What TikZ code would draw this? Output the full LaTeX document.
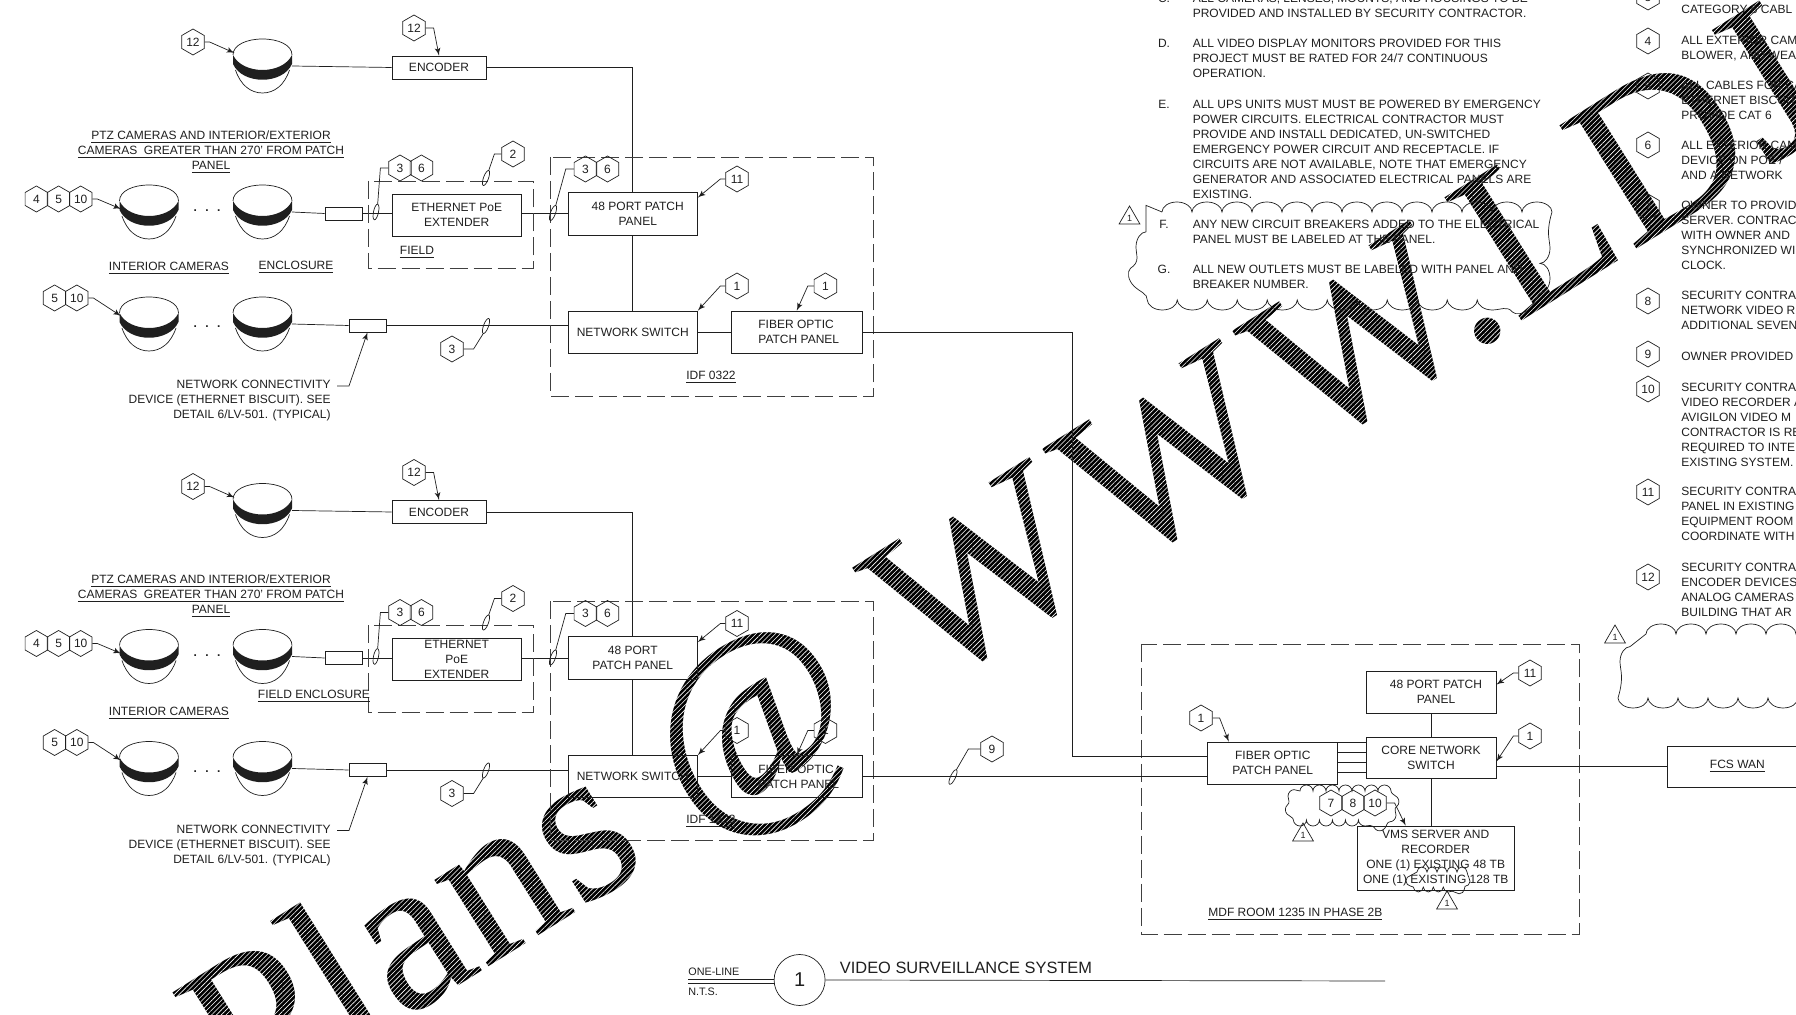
\documentclass[tikz,border=0pt]{standalone}
\usepackage{fontspec}
\setmainfont{Liberation Sans}
\newfontfamily\markfont{Liberation Serif}
\usetikzlibrary{arrows}
\usetikzlibrary{decorations.pathmorphing}
\usetikzlibrary{shapes.geometric}
\usetikzlibrary{patterns.meta}
\tikzset{every node/.style = {inner sep=0pt, font=\fontsize{6}{7.5}\selectfont}}
\tikzset{sbox/.style 2 args = {draw, minimum width=#1, minimum height=#2, align=center}}
\tikzset{tag/.style = {draw, regular polygon, regular polygon sides=6, shape border rotate=30, minimum size=13pt}}
\tikzset{revtag/.style = {draw, regular polygon, regular polygon sides=3, minimum size=12pt, font=\fontsize{4.5}{5}\selectfont}}
\tikzset{leader/.style = {->, >=latex'}}
\tikzset{frame/.style = {dash pattern=on 9pt off 3pt, black!75}}
\tikzset{cloudline/.style 2 args = {decorate, decoration={bumps, segment length=#1, amplitude=#2}}}
\tikzset{note/.style = {anchor=north west, align=left}}
\tikzset{dome/.pic = {
    \draw (-29.5,-12) .. controls (-29.5,-22) and (-16,-28) .. (0,-28) .. controls (16,-28) and (29.5,-22) .. (29.5,-12);
    \fill (-29.5,-12) .. controls (-20,8) and (20,8) .. (29.5,-12) -- (29.5,-3) .. controls (20,18) and (-20,18) .. (-29.5,-3) -- cycle;
    \draw (-27,3) .. controls (-22,18) and (-12,26) .. (0,26) .. controls (12,26) and (22,18) .. (27,3);
    \coordinate (-e) at (29.5,-1);
    \coordinate (-nw) at (-28,-14);
}}
\tikzset{cableloop/.pic = {
    \draw (0,0) ellipse (2.5 and 8);
    \coordinate (-top) at (0,-8);
    \coordinate (-bot) at (0,8);
}}
\begin{document}
\begin{tikzpicture}[x=0.5pt, y=-0.5pt, line width=0.35pt, color=black!88]
  \useasboundingbox (0,0) rectangle (1796,1015);
  \clip (0,0) rectangle (1796,1015);

  \node[anchor=base west, rotate=32, black, font=\markfont\fontsize{111}{111}\selectfont] (mark) at (244,1120) {Plans @\hspace{6pt} W\kern7pt W\kern7pt W.LDJ};
  \fill[pattern={Lines[angle=45, distance=1.7pt, line width=0.3pt]}, pattern color=white] (0,0) rectangle (1796,1015);

  \foreach \n/\dy/\idf/\pptext/\extext in {a/0/{IDF 0322}/{\hspace*{5pt}48 PORT PATCH\\\hspace*{5pt}PANEL}/{ETHERNET PoE\\EXTENDER},
                                           b/444.5/{IDF 1223}/{48 PORT\\PATCH PANEL}/{ETHERNET\\PoE\\EXTENDER}} {
    \begin{scope}[shift={(0,\dy)}]
      \pic (cama\n) at (262.5,67) {dome};
      \pic (camb\n) at (149,213) {dome};
      \pic (camc\n) at (262.5,213) {dome};
      \pic (camd\n) at (149,325) {dome};
      \pic (came\n) at (262.5,325) {dome};
      \node at (207,211) (dotsb\n) {\textbf{.\hspace{4.2pt}.\hspace{4.2pt}.}};
      \node at (207,327) (dotsd\n) {\textbf{.\hspace{4.2pt}.\hspace{4.2pt}.}};

      \node[sbox={47pt}{11.5pt}] (enc\n) at (439,67.5) {ENCODER};
      \node[sbox={64.7pt}{21.5pt}] (pp\n) at (632.75,213.5) {\pptext};
      \node[sbox={64.7pt}{21pt}] (sw\n) at (632.75,332) {NETWORK SWITCH};
      \node[sbox={65.2pt}{21pt}, align=left] (fb\n) at (796.75,332) {\hspace*{2pt}FIBER OPTIC\\\hspace*{2pt}PATCH PANEL};
      \node[sbox={64.7pt}{21pt}] (ex\n) at (456.7,215) {\extext};
      \node[sbox={18.5pt}{6.5pt}] (bisa\n) at (343.5,213.5) {};
      \node[sbox={18.5pt}{6.5pt}] (bisb\n) at (367.5,325.5) {};

      \draw (cama\n-e) -- (enc\n.west);
      \draw (enc\n.east) -| (pp\n.north);
      \draw (pp\n.south) -- (sw\n.north);
      \draw (camc\n-e) -- (bisa\n.west);
      \draw (bisa\n.east) -- (ex\n.west |- bisa\n.east);
      \draw (ex\n.east |- bisa\n.east) -- (pp\n.west |- bisa\n.east);
      \draw (came\n-e) -- (bisb\n.west);
      \draw (bisb\n.east) -- (sw\n.west |- bisb\n.east);
      \draw (sw\n.east) -- (fb\n.west);

      \draw[frame] (550,157) rectangle (873.5,396);
      \draw[frame] (368.5,181) rectangle (533,268);
      \node (idf\n) at (711,377) {\underline{\idf}};
      \node[align=center] (ptz\n) at (211,152) {\underline{PTZ CAMERAS AND INTERIOR/EXTERIOR}\\\underline{CAMERAS\ \ GREATER THAN 270' FROM PATCH}\\\underline{PANEL}};
      \node[anchor=east, align=right] (ncd\n) at (331,401) {NETWORK CONNECTIVITY\\DEVICE (ETHERNET BISCUIT). SEE\\DETAIL 6/LV-501. (TYPICAL)};
      \coordinate (ncs\n) at (337,386);
      \coordinate (ncb\n) at (349,386);
      \draw[leader] (ncs\n) -- (ncb\n) -- (bisb\n.south);

      \node[tag] (tca\n) at (193,42) {12};
      \draw[leader] (tca\n.east) -- ++(5,0) -- (cama\n-nw);
      \node[tag] (ten\n) at (414,28) {12};
      \draw[leader] (ten\n.east) -- ++(8,0) -- (enc\n.north);
      \node[tag] (tba\n) at (36.4,199) {4};
      \node[tag] (tbb\n) at (58.6,199) {5};
      \node[tag] (tbc\n) at (80.7,199) {10};
      \draw[leader] (tbc\n.east) -- ++(5,0) -- ([yshift=-5pt]camb\n-nw);
      \node[tag] (tda\n) at (54.6,298) {5};
      \node[tag] (tdb\n) at (76.8,298) {10};
      \draw[leader] (tdb\n.east) -- ++(5,0) -- ([yshift=-2.5pt]camd\n-nw);

      \pic[rotate=-12] (lfa\n) at (376,212) {cableloop};
      \node[tag] (tfa\n) at (400,168) {3};
      \node[tag] (tfb\n) at (421.4,168) {6};
      \draw (tfa\n.west) -- ++(-8,0) -- (lfa\n-top);
      \pic[rotate=-20] (lfb\n) at (486,178) {cableloop};
      \node[tag] (tfc\n) at (513,154) {2};
      \draw (tfc\n.west) -- ++(-7,0) -- (lfb\n-top);
      \pic[rotate=-20] (lfc\n) at (553,213) {cableloop};
      \node[tag] (tfd\n) at (585.4,169) {3};
      \node[tag] (tfe\n) at (607.5,169) {6};
      \draw (tfd\n.west) -- ++(-8,0) -- (lfc\n-top);
      \pic[rotate=-20] (lfd\n) at (486,326) {cableloop};
      \node[tag] (tfg\n) at (452,349) {3};
      \draw (tfg\n.east) -- ++(10,0) -- (lfd\n-bot);

      \node[tag] (tpp\n) at (737,179) {11};
      \draw[leader] (tpp\n.west) -- ++(-5,0) -- ([yshift=-3pt]pp\n.north east);
      \node[tag] (tsw\n) at (737,286) {1};
      \draw[leader] (tsw\n.west) -- ++(-5,0) -- (sw\n.north east);
      \node[tag] (tfo\n) at (825.4,286) {1};
      \draw[leader] (tfo\n.west) -- ++(-6,0) -- (fb\n.north);
    \end{scope}
  }

  \node (intera) at (169,268) {\underline{INTERIOR CAMERAS}};
  \node (encla) at (296,267) {\underline{ENCLOSURE}};
  \node (fielda) at (417,252) {\underline{FIELD}};
  \node (interb) at (169,713) {\underline{INTERIOR CAMERAS}};
  \node (fieldb) at (314,696) {\underline{FIELD ENCLOSURE}};

  \draw[frame] (1141.5,644) rectangle (1579,934);
  \node (mdf) at (1295.4,914) {\underline{MDF ROOM 1235 IN PHASE 2B}};
  \node[sbox={65pt}{21pt}] (mpp) at (1431,692) {\hspace*{5pt}48 PORT PATCH\\\hspace*{5pt}PANEL};
  \node[sbox={65pt}{20.5pt}] (core) at (1431,757.5) {CORE NETWORK\\SWITCH};
  \node[sbox={65pt}{21pt}] (mfb) at (1272.8,763) {FIBER OPTIC\\PATCH PANEL};
  \node[sbox={78.7pt}{32pt}] (vms) at (1435.7,858) {VMS SERVER AND\\RECORDER\\ONE (1) EXISTING 48 TB\\ONE (1) EXISTING 128 TB};
  \node[sbox={70pt}{20.5pt}] (wan) at (1737.4,766.5) {\underline{FCS WAN}};
  \draw (mpp.south) -- (core.north);
  \draw (core.south) -- (vms.north -| core.south);
  \draw (core.east |- wan.west) -- (wan.west);
  \foreach \y in {742,752,762,772} {
    \draw (mfb.east |- 0,\y) -- (core.west |- 0,\y);
  }
  \draw (fba.east) -| (1072,756) -- (mfb.west |- 0,756);
  \draw (fbb.east) -- (mfb.west |- 0,776.5);

  \pic[rotate=-25] (lninea) at (953,777) {cableloop};
  \node[tag] (tnine) at (992,749) {9};
  \draw (tnine.west) -- ++(-12,0) -- (lninea-top);

  \node[tag] (tmpp) at (1530,673) {11};
  \draw[leader] (tmpp.west) -- ++(-5,0) -- ([yshift=-7pt]mpp.north east);
  \node[tag] (tcore) at (1530,736) {1};
  \draw[leader] (tcore.west) -- ++(-5,0) -- ([yshift=-12.5pt]core.north east);
  \node[tag] (tmfb) at (1201,718) {1};
  \draw[leader] (tmfb.east) -- ++(7,0) -- ([xshift=-22pt]mfb.north);
  \node[tag] (tva) at (1331,803) {7};
  \node[tag] (tvb) at (1353,803) {8};
  \node[tag] (tvc) at (1375,803) {10};
  \draw[leader] (tvc.east) -- ++(8,0) -- ([xshift=-15pt]vms.north);

  \draw[cloudline={13pt}{3pt}] (1300,791) -- (1384,791) -- (1390,798) -- (1390,813) -- (1384,820) -- (1300,820) -- (1294,813) -- (1294,798) -- cycle;
  \node[revtag] (revc) at (1303,835) {1};
  \draw[cloudline={10pt}{2.5pt}] (1417,872) -- (1461,872) -- (1465,876) -- (1465,883) -- (1461,887) -- (1417,887) -- (1413,883) -- (1413,876) -- cycle;
  \node[revtag] (revd) at (1447,903) {1};
  \draw[cloudline={30pt}{5pt}] (1162,212) -- (1524,212) -- (1540,228) -- (1540,284) -- (1524,300) -- (1162,300) -- (1146,284) -- (1146,228) -- cycle;
  \node[revtag] (reva) at (1129.5,218) {1};
  \draw[cloudline={30pt}{5pt}] (1646,634) -- (1870,634) -- (1870,698) -- (1646,698) -- (1630,682) -- (1630,650) -- cycle;
  \node[revtag] (revb) at (1615,637) {1};

  \foreach \l/\y in {C./-2, D./43, E./104, F./224, G./269} {
    \node (let\y) at (1164,\y) {\l};
  }
  \node[note] at (1192.4,-6) (noc) {ALL CAMERAS, LENSES, MOUNTS, AND HOUSINGS TO BE\\PROVIDED AND INSTALLED BY SECURITY CONTRACTOR.};
  \node[note] at (1192.4,39) (nod) {ALL VIDEO DISPLAY MONITORS PROVIDED FOR THIS\\PROJECT MUST BE RATED FOR 24/7 CONTINUOUS\\OPERATION.};
  \node[note] at (1192.4,100) (noe) {ALL UPS UNITS MUST MUST BE POWERED BY EMERGENCY\\POWER CIRCUITS. ELECTRICAL CONTRACTOR MUST\\PROVIDE AND INSTALL DEDICATED, UN-SWITCHED\\EMERGENCY POWER CIRCUIT AND RECEPTACLE. IF\\CIRCUITS ARE NOT AVAILABLE, NOTE THAT EMERGENCY\\GENERATOR AND ASSOCIATED ELECTRICAL PANELS ARE\\EXISTING.};
  \node[note] at (1192.4,220) (nof) {ANY NEW CIRCUIT BREAKERS ADDED TO THE ELECTRICAL\\PANEL MUST BE LABELED AT THE PANEL.};
  \node[note] at (1192.4,265) (nog) {ALL NEW OUTLETS MUST BE LABELED WITH PANEL AND\\BREAKER NUMBER.};

  \foreach \t/\y in {3/-3, 4/41, 5/86, 6/145, 7/207, 8/301, 9/354, 10/389, 11/492, 12/577} {
    \node[tag] (key\t) at (1648,\y) {\t};
  }
  \node[note] at (1681,5) (nk3) {CATEGORY 6 CABL};
  \node[note] at (1681,36) (nk4) {ALL EXTERIOR CAM\\BLOWER, AND WEA};
  \node[note] at (1681,81) (nk5) {ALL CABLES FOR CA\\ETHERNET BISCUITS\\PROVIDE CAT 6};
  \node[note] at (1681,141) (nk6) {ALL EXTERIOR CAM\\DEVICE ON POE /\\AND A NETWORK};
  \node[note] at (1681,201) (nk7) {OWNER TO PROVID\\SERVER. CONTRACT\\WITH OWNER AND\\SYNCHRONIZED WI\\CLOCK.};
  \node[note] at (1681,291) (nk8) {SECURITY CONTRAC\\NETWORK VIDEO R\\ADDITIONAL SEVEN};
  \node[note] at (1681,352) (nk9) {OWNER PROVIDED};
  \node[note] at (1681,383) (nk10) {SECURITY CONTRAC\\VIDEO RECORDER A\\AVIGILON VIDEO M\\CONTRACTOR IS RE\\REQUIRED TO INTE\\EXISTING SYSTEM.};
  \node[note] at (1681,487) (nk11) {SECURITY CONTRAC\\PANEL IN EXISTING\\EQUIPMENT ROOM\\COORDINATE WITH};
  \node[note] at (1681,563) (nk12) {SECURITY CONTRAC\\ENCODER DEVICES\\ANALOG CAMERAS\\BUILDING THAT AR};

  \node[draw, circle, minimum size=25.5pt, font=\fontsize{10}{12}\selectfont] (num) at (799.6,980) {1};
  \node[anchor=west, font=\fontsize{8.2}{10}\selectfont] (title) at (839.6,968) {VIDEO SURVEILLANCE SYSTEM};
  \coordinate (titleend) at (1385,981);
  \draw (num.east) -- (titleend);
  \node[anchor=west, font=\fontsize{5.4}{7}\selectfont] (oneline) at (688,972) {ONE-LINE};
  \node[anchor=west, font=\fontsize{5.4}{7}\selectfont] (nts) at (688,992) {N.T.S.};
  \coordinate (lna) at (688,979);
  \coordinate (lnb) at (688,983);
  \draw (lna) -- (lna -| num.west);
  \draw (lnb) -- (lnb -| num.west);
\end{tikzpicture}
\end{document}
